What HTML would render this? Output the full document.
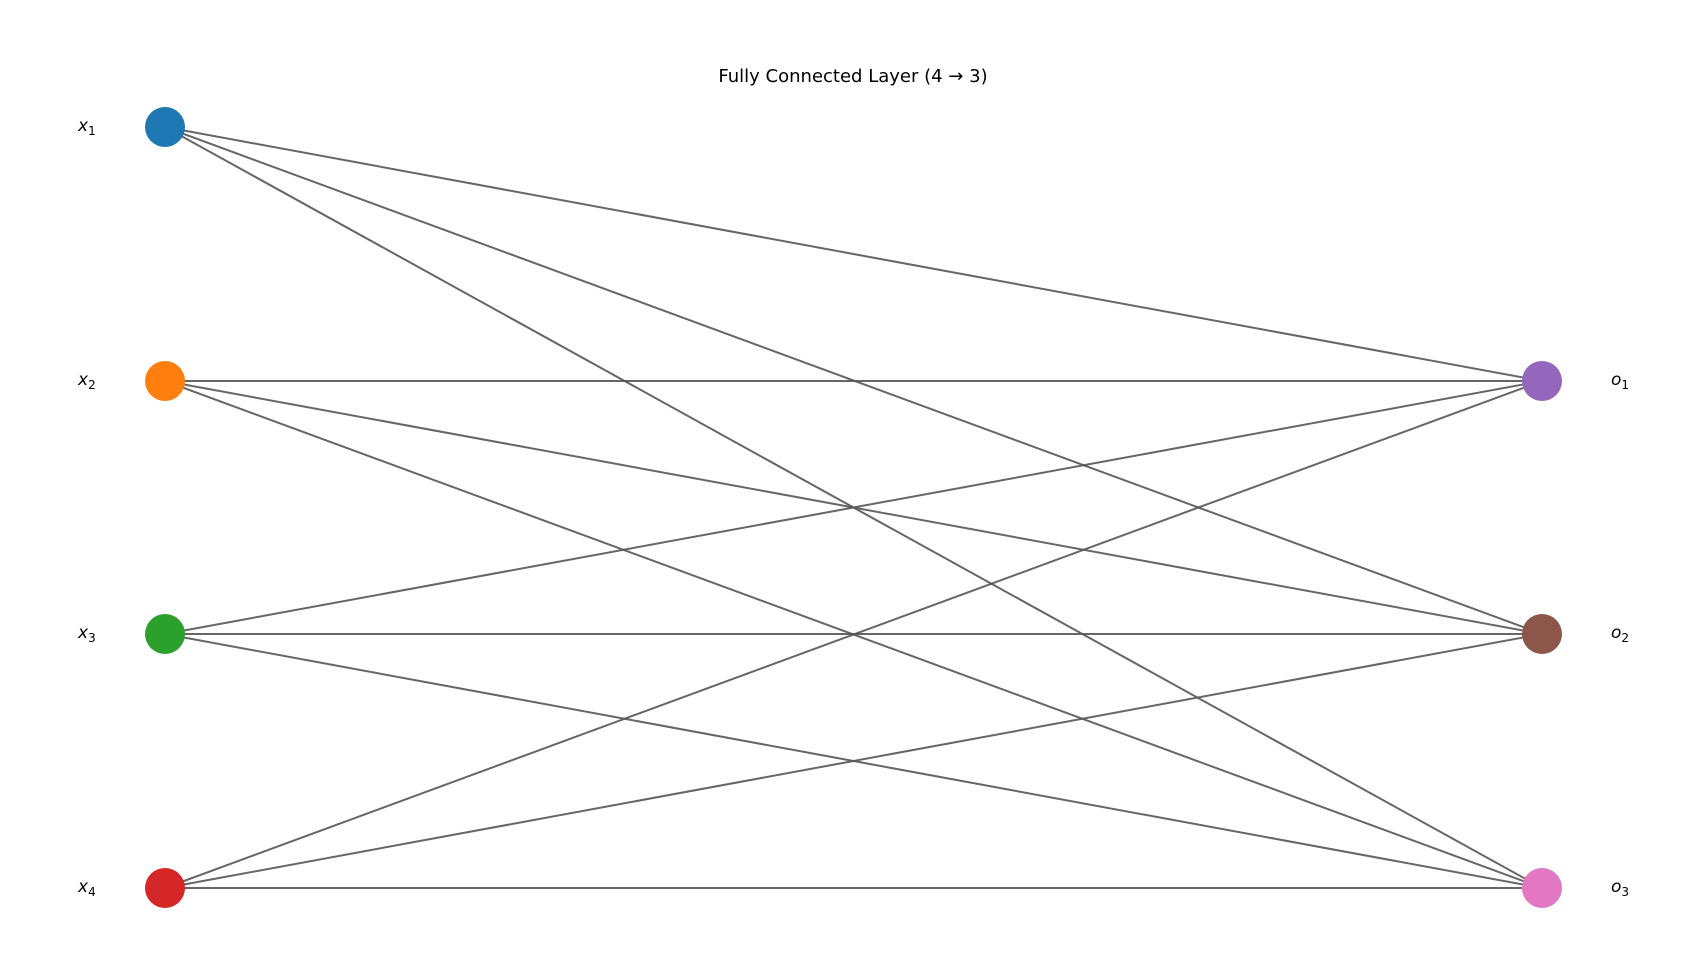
<!DOCTYPE html>
<html><head><meta charset="utf-8"><style>
html,body{margin:0;padding:0;background:#fff;}
svg{display:block;}
text{font-family:"DejaVu Sans","Liberation Sans",sans-serif;fill:#000;}
</style></head><body>
<svg width="1706" height="962" viewBox="0 0 1706 962" xmlns="http://www.w3.org/2000/svg">
<rect width="1706" height="962" fill="#fff"/>
<text x="853" y="82" font-size="18" text-anchor="middle">Fully Connected Layer (4 → 3)</text>
<g stroke="#555" stroke-opacity="0.9" stroke-width="2">
<line x1="165" y1="127" x2="1542" y2="381"/>
<line x1="165" y1="127" x2="1542" y2="634"/>
<line x1="165" y1="127" x2="1542" y2="888"/>
<line x1="165" y1="381" x2="1542" y2="381"/>
<line x1="165" y1="381" x2="1542" y2="634"/>
<line x1="165" y1="381" x2="1542" y2="888"/>
<line x1="165" y1="634" x2="1542" y2="381"/>
<line x1="165" y1="634" x2="1542" y2="634"/>
<line x1="165" y1="634" x2="1542" y2="888"/>
<line x1="165" y1="888" x2="1542" y2="381"/>
<line x1="165" y1="888" x2="1542" y2="634"/>
<line x1="165" y1="888" x2="1542" y2="888"/>
</g>
<circle cx="165" cy="127" r="20" fill="#1f77b4"/>
<circle cx="165" cy="381" r="20" fill="#ff7f0e"/>
<circle cx="165" cy="634" r="20" fill="#2ca02c"/>
<circle cx="165" cy="888" r="20" fill="#d62728"/>
<circle cx="1542" cy="381" r="20" fill="#9467bd"/>
<circle cx="1542" cy="634" r="20" fill="#8c564b"/>
<circle cx="1542" cy="888" r="20" fill="#e377c2"/>
<g font-size="17" font-style="italic">
<text x="78" y="131">x<tspan font-size="12" font-style="normal" dy="4">1</tspan></text>
<text x="78" y="385">x<tspan font-size="12" font-style="normal" dy="4">2</tspan></text>
<text x="78" y="638">x<tspan font-size="12" font-style="normal" dy="4">3</tspan></text>
<text x="78" y="892">x<tspan font-size="12" font-style="normal" dy="4">4</tspan></text>
<text x="1611" y="385">o<tspan font-size="12" font-style="normal" dy="4">1</tspan></text>
<text x="1611" y="638">o<tspan font-size="12" font-style="normal" dy="4">2</tspan></text>
<text x="1611" y="892">o<tspan font-size="12" font-style="normal" dy="4">3</tspan></text>
</g>
</svg>
</body></html>
